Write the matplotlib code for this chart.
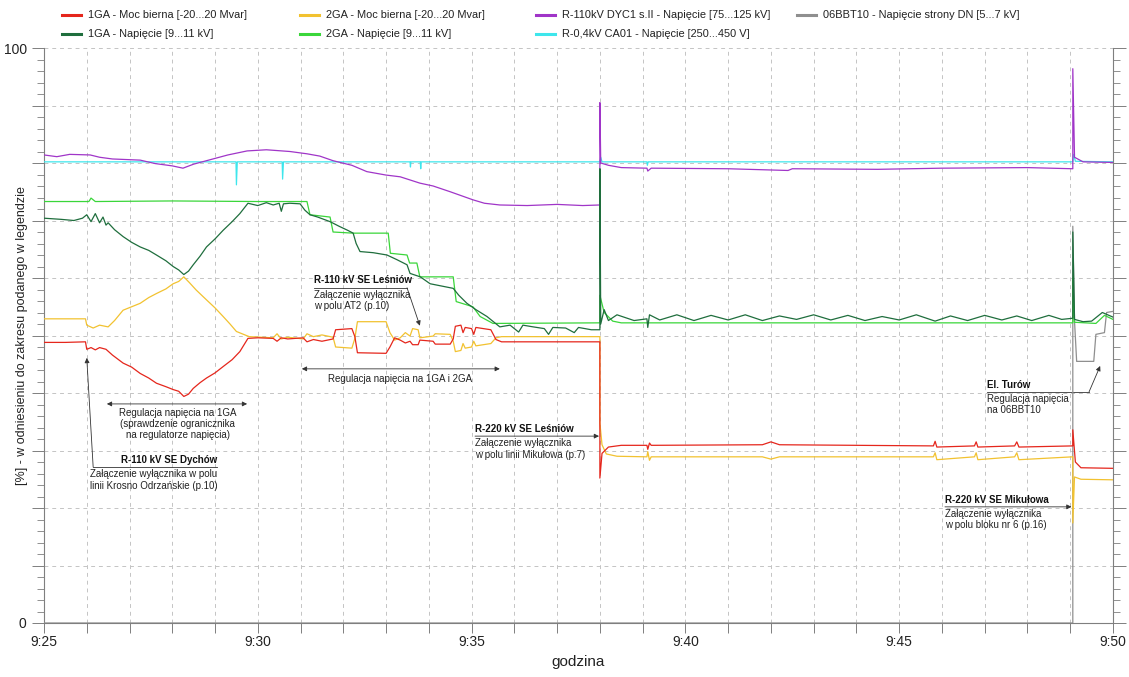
"""
Przebiegi napięć i mocy biernej 9:25-9:50
"""

import matplotlib.pyplot as plt
from matplotlib.lines import Line2D
from matplotlib.ticker import MultipleLocator, FuncFormatter

plt.rcParams["font.family"] = ["Liberation Sans", "DejaVu Sans"]

# ============ DATA (minutes after 9:25, % of legend range) ============
t_red = [0.0, 0.5, 0.97, 1.0, 1.1, 1.2, 1.3, 1.45, 1.6, 1.85, 2.05, 2.25, 2.45, 2.63,
         2.85, 3.02, 3.15, 3.27, 3.38, 3.49, 3.65, 3.8, 4.0, 4.19, 4.4, 4.58, 4.77, 5.0,
         5.36, 5.45, 5.55, 5.7, 6.06, 6.15, 6.3, 6.5, 6.76, 6.82, 7.2, 7.27, 7.33, 8.0,
         8.09, 8.2, 8.33, 8.45, 8.56, 8.62, 8.75, 8.79, 9.1, 9.15, 9.5, 9.57, 9.62, 9.75,
         9.8, 9.85, 10.0, 10.05, 10.1, 10.45, 10.57, 10.7, 13.0, 13.0, 13.05, 13.2, 13.5,
         14.1, 14.12, 14.16, 14.2, 16.8, 17.0, 17.2, 20.8, 20.84, 20.88, 21.76, 21.8,
         21.84, 22.7, 22.75, 22.8, 24.06, 24.06, 24.12, 24.25, 25.0]
v_red = [48.8, 48.8, 48.9, 47.6, 47.9, 47.5, 47.9, 47.6, 46.6, 45.2, 44.5, 43.4, 42.6, 41.7,
         41.1, 40.6, 40.3, 39.4, 39.8, 40.8, 41.8, 42.6, 43.5, 44.6, 45.8, 47.2, 49.5, 49.6,
         49.5, 49.0, 49.6, 49.4, 49.6, 48.9, 49.3, 49.0, 49.4, 51.0, 51.2, 49.8, 47.0, 46.9,
         48.0, 49.6, 49.2, 48.7, 49.0, 48.4, 48.4, 49.2, 49.0, 48.5, 48.5, 49.4, 51.6, 51.8,
         50.5, 51.4, 51.2, 50.2, 51.4, 51.0, 49.3, 48.9, 48.9, 25.2, 29.5, 30.6, 30.9,
         30.9, 30.2, 31.3, 30.9, 31.0, 31.5, 31.0, 30.8, 31.6, 30.6, 30.8, 31.5,
         30.6, 30.8, 31.5, 30.6, 30.8, 33.6, 28.0, 27.0, 26.9]

t_yel = [0.0, 0.97, 1.0, 1.15, 1.3, 1.5, 1.65, 1.85, 2.05, 2.25, 2.45, 2.63, 2.85, 3.02,
         3.15, 3.27, 3.4, 3.56, 3.8, 4.0, 4.19, 4.35, 4.5, 4.8, 5.36, 5.45, 5.55, 5.7,
         6.06, 6.15, 6.3, 6.5, 6.76, 6.82, 7.2, 7.27, 7.33, 8.0, 8.09, 8.2, 8.33, 8.45,
         8.56, 8.62, 8.75, 8.79, 9.1, 9.15, 9.5, 9.57, 9.62, 9.75, 9.8, 9.85, 10.0, 10.05,
         10.1, 10.45, 10.57, 10.7, 13.0, 13.0, 13.05, 13.15, 13.4, 14.1, 14.12, 14.16,
         14.2, 16.8, 17.0, 17.2, 20.8, 20.84, 20.88, 21.76, 21.8, 21.84, 22.7, 22.75,
         22.8, 24.06, 24.06, 24.1, 24.25, 25.0]
v_yel = [52.9, 52.9, 51.8, 51.3, 51.8, 51.5, 52.6, 54.4, 55.0, 55.6, 56.6, 57.3, 58.1, 59.0,
         59.4, 60.2, 59.2, 57.9, 56.2, 54.8, 53.3, 52.0, 50.7, 49.8, 49.6, 50.3, 49.4, 49.7,
         49.4, 50.3, 49.8, 50.1, 49.7, 48.0, 47.8, 49.5, 52.4, 52.4, 50.5, 49.2, 49.6, 50.5,
         49.9, 51.2, 51.0, 49.6, 49.9, 50.3, 50.2, 49.0, 47.2, 47.4, 48.6, 47.8, 48.0, 49.0,
         48.2, 48.6, 49.6, 49.8, 49.8, 34.8, 31.0, 29.4, 29.0, 28.9, 29.8, 28.3,
         28.9, 28.9, 28.5, 28.9, 28.9, 29.6, 28.4, 28.9, 29.6, 28.4, 28.9, 29.6,
         28.4, 28.9, 17.4, 25.4, 25.0, 24.9]

t_dg = [0.0, 0.4, 0.7, 0.9, 1.0, 1.1, 1.2, 1.3, 1.38, 1.45, 1.5, 1.65, 1.85, 2.05, 2.25,
        2.45, 2.63, 2.85, 3.02, 3.15, 3.27, 3.38, 3.49, 3.65, 3.8, 4.0, 4.19, 4.4, 4.58,
        4.77, 5.0, 5.2, 5.36, 5.5, 5.55, 5.6, 5.75, 5.99, 6.1, 6.22, 6.4, 6.69, 6.9, 7.1,
        7.23, 7.3, 7.39, 7.7, 8.02, 8.25, 8.49, 8.56, 8.8, 9.03, 9.3, 9.57, 9.7, 9.89,
        10.1, 10.36, 10.66, 10.9, 11.1, 11.2, 11.44, 11.7, 11.8, 11.9, 12.2, 12.4, 12.5,
        12.8, 13.0, 13.0, 13.02, 13.1, 13.2, 13.4, 13.8, 14.1, 14.12, 14.16, 14.4, 14.8,
        15.2, 15.6, 16.0, 16.4, 16.8, 17.2, 17.6, 18.0, 18.4, 18.8, 19.2, 19.6, 20.0,
        20.4, 20.84, 21.2, 21.6, 22.0, 22.4, 22.75, 23.1, 23.5, 23.8, 24.06, 24.06, 24.1,
        24.3, 24.5, 24.75, 25.0]
v_dg = [70.4, 70.2, 70.0, 70.4, 71.0, 69.8, 71.2, 69.6, 70.6, 69.2, 69.6, 68.4, 67.2, 66.2,
        65.4, 64.8, 64.0, 63.0, 62.0, 61.4, 60.6, 61.2, 62.3, 63.8, 65.4, 66.8, 68.3, 69.8,
        71.2, 73.0, 72.6, 73.1, 72.7, 73.0, 71.6, 72.9, 73.0, 72.9, 71.8, 71.0, 70.6, 69.8,
        69.0, 68.3, 67.8, 66.0, 64.6, 64.4, 64.0, 63.2, 62.3, 60.8, 60.2, 59.0, 58.6, 58.2,
        57.0, 55.6, 54.5, 53.3, 51.5, 51.8, 50.6, 51.8, 51.5, 51.2, 50.2, 51.4, 51.3, 50.5,
        51.4, 51.0, 51.0, 79.0, 52.0, 54.5, 52.6, 53.6, 52.6, 52.9, 51.4, 53.6, 52.7, 53.6,
        52.6, 53.5, 52.7, 53.6, 52.6, 53.4, 52.8, 53.6, 52.7, 53.5, 52.6, 53.3, 52.7, 53.6,
        52.5, 53.4, 52.6, 53.5, 52.7, 53.4, 52.6, 53.5, 52.8, 53.0, 68.0, 52.8, 52.4, 52.5,
        54.0, 53.2]

t_lg = [0.0, 1.05, 1.1, 1.2, 3.0, 5.0, 6.15, 6.22, 6.69, 6.76, 7.23, 8.05, 8.1, 8.49, 8.55,
        8.72, 8.79, 9.57, 9.64, 10.03, 10.2, 10.5, 13.0, 13.0, 13.1, 13.3, 13.5, 24.06,
        24.06, 24.1, 24.6, 24.8, 25.0]
v_lg = [73.3, 73.3, 73.9, 73.3, 73.4, 73.3, 73.3, 71.0, 70.6, 68.0, 67.8, 67.8, 64.3, 64.0,
        62.6, 62.6, 60.2, 60.2, 55.9, 55.0, 53.3, 52.1, 52.2, 57.0, 54.0, 52.5, 52.2, 52.2,
        60.0, 52.3, 52.1, 53.5, 52.8]

t_pur = [0.0, 0.3, 0.6, 1.08, 1.3, 1.6, 2.25, 2.6, 3.0, 3.25, 3.5, 3.95, 4.3, 4.75, 5.2,
         5.75, 6.15, 6.45, 6.76, 7.2, 7.55, 8.0, 8.33, 8.79, 9.1, 9.5, 10.03, 10.3, 10.66,
         11.3, 12.0, 12.6, 13.0, 13.0, 13.02, 13.2, 13.5, 14.1, 14.12, 14.2, 16.0, 17.4,
         17.5, 19.5, 21.0, 23.0, 24.06, 24.06, 24.1, 24.3, 25.0]
v_pur = [81.4, 81.1, 81.5, 81.4, 81.0, 80.7, 80.5, 79.9, 79.5, 79.1, 79.8, 80.7, 81.4, 82.1,
         82.3, 82.0, 81.6, 81.2, 80.4, 79.6, 78.5, 77.9, 77.6, 76.5, 76.0, 75.0, 73.6, 73.0,
         72.7, 72.6, 72.8, 72.6, 72.7, 90.5, 80.0, 79.6, 79.2, 79.1, 78.6, 79.1, 79.0, 78.7,
         79.0, 78.9, 79.1, 79.2, 79.0, 96.4, 81.0, 80.2, 80.1]

t_cyan = [0.0, 4.49, 4.5, 4.52, 5.57, 5.58, 5.6, 8.56, 8.57, 8.58, 8.8, 8.81, 8.82, 13.0,
          13.02, 13.05, 14.1, 14.11, 14.13, 24.06, 24.08, 24.12, 25.0]
v_cyan = [80.2, 80.2, 76.2, 80.2, 80.2, 77.2, 80.2, 80.2, 79.3, 80.2, 80.2, 79.0, 80.2, 80.2,
          81.0, 80.2, 80.2, 79.6, 80.2, 80.2, 81.5, 80.3, 80.2]

t_gray = [0.0, 24.06, 24.06, 24.1, 24.15, 24.55, 24.6, 24.8, 24.85, 25.0]
v_gray = [0.0, 0.0, 69.0, 52.5, 45.5, 45.5, 50.2, 50.5, 54.0, 54.2]

tick_minutes = [0, 5, 10, 15, 20, 25]
tick_labels = ["9:25", "9:30", "9:35", "9:40", "9:45", "9:50"]

# Colors
RED = "#e5261c"
YELLOW = "#f2c230"
PURPLE = "#a035c8"
GRAY = "#8f8f8f"
DGREEN = "#1f6e3d"
LGREEN = "#3ad63a"
CYAN = "#3ee6ec"
AXIS = "#7f7f7f"

fig = plt.figure(figsize=(11.29, 6.77), dpi=100)
ax = fig.add_axes([44 / 1129, 54 / 677, 1069 / 1129, 575 / 677])
ax.set_xlim(0, 25)
ax.set_ylim(0, 100)

# ============ SERIES ============
lw = 0.9
ax.plot(t_gray, v_gray, color=GRAY, lw=lw, zorder=3)
ax.plot(t_cyan, v_cyan, color=CYAN, lw=lw, zorder=3)
ax.plot(t_pur, v_pur, color=PURPLE, lw=lw, zorder=3)
ax.plot(t_lg, v_lg, color=LGREEN, lw=lw, zorder=3)
ax.plot(t_dg, v_dg, color=DGREEN, lw=lw, zorder=4)
ax.plot(t_yel, v_yel, color=YELLOW, lw=lw, zorder=4)
ax.plot(t_red, v_red, color=RED, lw=lw, zorder=5)

# ============ AXES / GRID ============
ax.xaxis.set_minor_locator(MultipleLocator(1))
ax.set_xticks(tick_minutes)
ax.set_xticklabels(tick_labels)
ax.yaxis.set_major_locator(MultipleLocator(10))
ax.yaxis.set_minor_locator(MultipleLocator(2))
ax.yaxis.set_major_formatter(FuncFormatter(lambda v, p: f"{v:.0f}" if v in (0, 100) else ""))

ax.tick_params(axis="x", which="both", direction="out", length=7, width=0.7,
               color=AXIS, labelsize=10, pad=2, labelcolor="#222222")
ax.tick_params(axis="y", which="major", direction="out", length=9, width=0.7,
               color=AXIS, left=True, right=True, labelsize=10, labelcolor="#222222")
ax.tick_params(axis="y", which="minor", direction="out", length=5, width=0.6,
               color=AXIS, left=True, right=True)

for side in ["left", "bottom", "right"]:
    ax.spines[side].set_color(AXIS)
    ax.spines[side].set_linewidth(0.8)
ax.spines["top"].set_visible(False)

ax.xaxis.grid(True, which="both", color="#c4c4c4", lw=0.7, ls=(0, (4, 4)))
ax.yaxis.grid(True, which="major", color="#c4c4c4", lw=0.7, ls=(0, (4, 4)))
ax.set_axisbelow(True)

ax.set_xlabel("godzina", fontsize=11, color="#222222")
ax.xaxis.set_label_coords(0.5, -0.056)
ax.set_ylabel("[%] - w odniesieniu do zakresu podanego w legendzie", fontsize=9,
              color="#222222")
ax.yaxis.set_label_coords(-0.0145, 0.5)

# ============ ANNOTATIONS ============
ANN = "#333333"
FS = 7
arrow = dict(arrowstyle="-|>", mutation_scale=7, lw=0.6, color=ANN, shrinkA=0, shrinkB=0)
double = dict(arrowstyle="<|-|>", mutation_scale=7, lw=0.6, color=ANN, shrinkA=0, shrinkB=0)


def note(x, y, title, body, ha="left"):
    ax.text(x, y + 0.4, title, fontsize=FS, fontweight="bold", ha=ha, va="bottom",
            color="#111111")
    ax.text(x, y - 0.4, body, fontsize=FS, ha=ha, va="top", color="#222222",
            linespacing=1.15)


# R-110 kV SE Dychów
ax.plot([1.15, 4.05], [27.1, 27.1], color=ANN, lw=0.6)
ax.annotate("", xy=(1.0, 46.1), xytext=(1.15, 27.1), arrowprops=arrow)
note(4.05, 27.1, "R-110 kV SE Dychów",
     "Załączenie wyłącznika w polu\nlinii Krosno Odrzańskie (p.10)", ha="right")

# Regulacja 1GA
ax.annotate("", xy=(1.47, 38.1), xytext=(4.75, 38.1), arrowprops=double)
ax.text(3.13, 37.4, "Regulacja napięcia na 1GA\n(sprawdzenie ogranicznika\nna regulatorze napięcia)",
        fontsize=FS, ha="center", va="top", linespacing=1.15, color="#222222")

# Regulacja 1GA i 2GA
ax.annotate("", xy=(6.03, 44.2), xytext=(10.66, 44.2), arrowprops=double)
ax.text(8.33, 43.3, "Regulacja napięcia na 1GA i 2GA", fontsize=FS, ha="center",
        va="top", color="#222222")

# R-110 kV SE Leśniów
ax.plot([6.31, 8.49], [58.3, 58.3], color=ANN, lw=0.6)
ax.annotate("", xy=(8.79, 51.7), xytext=(8.49, 58.3), arrowprops=arrow)
note(6.31, 58.3, "R-110 kV SE Leśniów", "Załączenie wyłącznika\nw polu AT2 (p.10)")

# R-220 kV SE Leśniów
ax.annotate("", xy=(12.98, 32.5), xytext=(10.08, 32.5), arrowprops=arrow)
note(10.08, 32.5, "R-220 kV SE Leśniów", "Załączenie wyłącznika\nw polu linii Mikułowa (p.7)")

# El. Turów
ax.plot([22.05, 24.44], [40.2, 40.2], color=ANN, lw=0.6)
ax.annotate("", xy=(24.7, 44.7), xytext=(24.44, 40.2), arrowprops=arrow)
note(22.05, 40.2, "El. Turów", "Regulacja napięcia\nna 06BBT10")

# R-220 kV SE Mikułowa
ax.annotate("", xy=(24.03, 20.2), xytext=(21.07, 20.2), arrowprops=arrow)
note(21.07, 20.2, "R-220 kV SE Mikułowa", "Załączenie wyłącznika\nw polu bloku nr 6 (p.16)")

# ============ LEGEND (manual, two rows) ============
legend_items = [
    (62, 15, RED, "1GA - Moc bierna [-20...20 Mvar]"),
    (300, 15, YELLOW, "2GA - Moc bierna [-20...20 Mvar]"),
    (536, 15, PURPLE, "R-110kV DYC1 s.II - Napięcie [75...125 kV]"),
    (797, 15, GRAY, "06BBT10 - Napięcie strony DN [5...7 kV]"),
    (62, 34, DGREEN, "1GA - Napięcie [9...11 kV]"),
    (300, 34, LGREEN, "2GA - Napięcie [9...11 kV]"),
    (536, 34, CYAN, "R-0,4kV CA01 - Napięcie [250...450 V]"),
]
for x, y, c, label in legend_items:
    yf = 1 - y / 677
    fig.add_artist(Line2D([x / 1129, (x + 19) / 1129], [yf, yf], color=c, lw=2.2))
    fig.text((x + 26) / 1129, yf, label, fontsize=7.9, va="center", ha="left",
             color="#222222")

fig.savefig("out.png", dpi=100)
plt.close(fig)
